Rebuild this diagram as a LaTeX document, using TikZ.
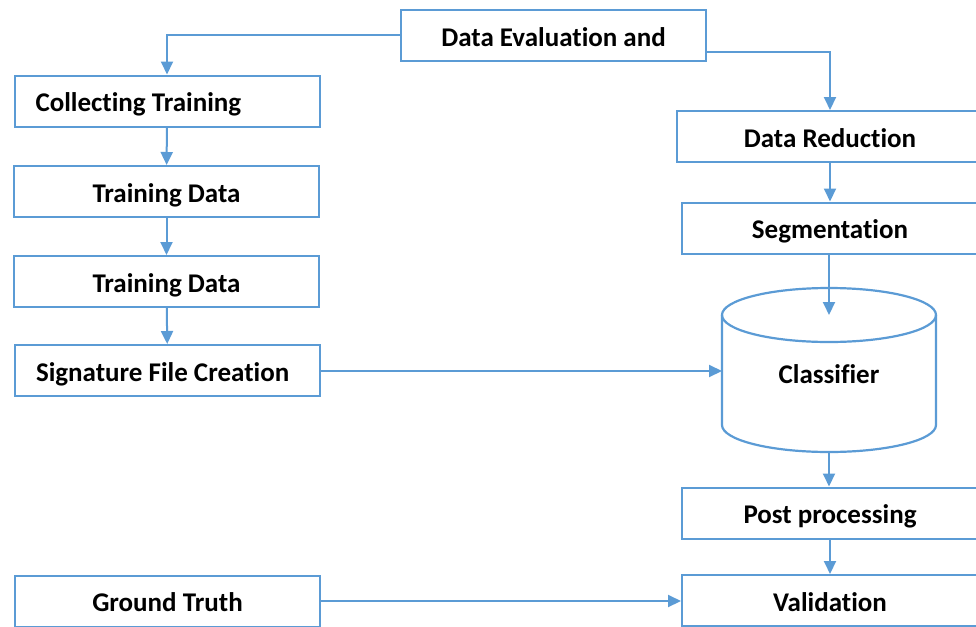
\documentclass[tikz,border=0pt]{standalone}
\usepackage{fontspec}
\setmainfont{Carlito}[Ligatures=NoCommon]
\usetikzlibrary{arrows.meta,calc,positioning}
\definecolor{flowblue}{HTML}{5B9BD5}
\tikzset{
  step box/.style={
      draw=flowblue, line width=2pt,
      minimum width=305pt, minimum height=51pt,
      inner sep=0pt, text height=23pt, text depth=2pt,
      font=\fontsize{27}{31}\selectfont\bfseries
    },
  left text/.style={
      text width=263pt, align=flush left, inner xsep=21pt
    },
  flow arrow/.style={
      draw=flowblue, line width=2pt,
        -{Triangle[length=13pt,width=12pt]}
    },
  cylinder line/.style={draw=flowblue, line width=2.2pt}
}

\begin{document}
\begin{tikzpicture}[x=1pt, y=-1pt]

  \useasboundingbox (0,0) rectangle (976,626);
  \clip (0,0) rectangle (976,626);

  % ------------------------------------------------------------------
  % Top box and the training column on the left.
  % ------------------------------------------------------------------
  \node[step box] (eval) at (553.5,35.5) {Data Evaluation and};

  \node[step box, left text] (collect) at (167,101) {Collecting Training};
  \node[step box] (train1) at (166.5,191.5) {Training Data};
  \node[step box] (train2) at (166.5,281.5) {Training Data};
  \node[step box, left text] (sig) at (167.5,370.5) {Signature File Creation};

  \node[step box] (truth) at (167.5,601) {Ground Truth};

  % ------------------------------------------------------------------
  % Classification column on the right.
  % ------------------------------------------------------------------
  \node[step box, minimum width=306pt] (reduce) at (830,136.5) {Data Reduction};
  \node[step box, minimum width=296pt] (segment) at (830,228) {Segmentation};

  \node[font=\fontsize{27}{31}\selectfont\bfseries] (clf) at (829,374)
  {Classifier};
  \coordinate (clftop) at (829,315);
  \coordinate (clfwest) at (722,371);
  \coordinate (clfbot) at (829,452);

  \draw[cylinder line] (722,315) -- (722,425)
  arc[start angle=180, end angle=0, x radius=107, y radius=27]
  -- (936,315);
  \draw[cylinder line] (clftop) ellipse[x radius=107, y radius=27];

  \node[step box, minimum width=296pt] (post) at (830,513) {Post processing};
  \node[step box, minimum width=296pt] (valid) at (830,600.5) {Validation};

  % ------------------------------------------------------------------
  % Connectors.
  % ------------------------------------------------------------------
  \draw[flow arrow] (eval.west) -| (collect.north);
  \draw[flow arrow] ($(eval.east)+(0,17)$) -| (reduce.north);

  \draw[flow arrow] (collect) -- (train1);
  \draw[flow arrow] (train1) -- (train2);
  \draw[flow arrow] (train2) -- (sig);

  \draw[flow arrow] (reduce) -- (segment);
  \draw[flow arrow] (segment.south -| clftop) -- (clftop);
  \draw[flow arrow] (sig.east |- clfwest) -- (clfwest);
  \draw[flow arrow] (clfbot) -- (post.north -| clfbot);
  \draw[flow arrow] (post) -- (valid);
  \draw[flow arrow] (truth.east) -- (truth.east -| valid.west);

\end{tikzpicture}
\end{document}
